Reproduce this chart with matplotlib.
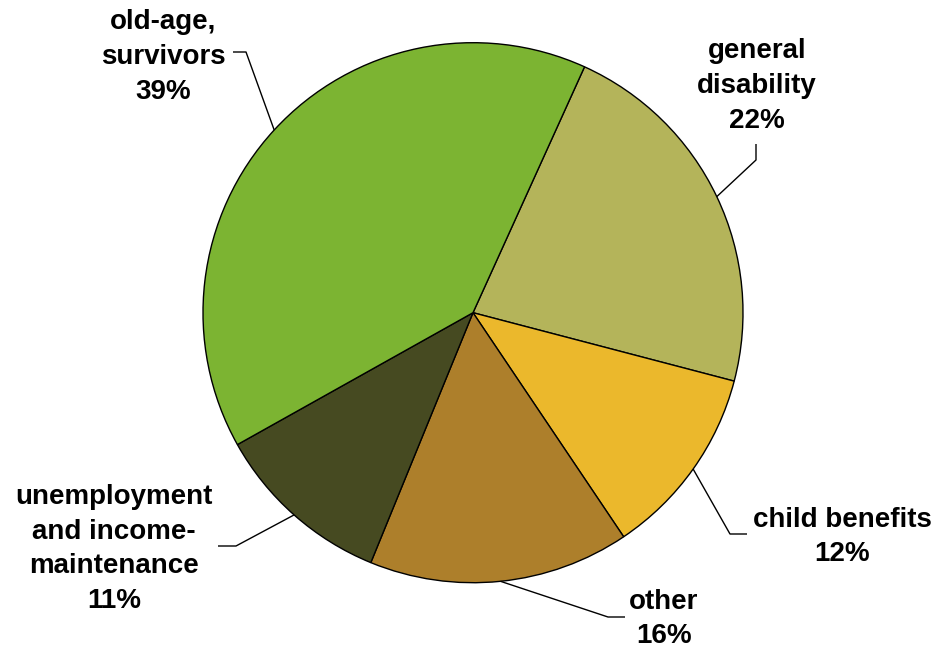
import matplotlib
matplotlib.use("Agg")
import matplotlib.pyplot as plt
import numpy as np

# benefit categories, clockwise from the top
categories = ["general\ndisability", "child benefits", "other",
              "unemployment\nand income-\nmaintenance", "old-age,\nsurvivors"]
shares = [22.3, 11.5, 15.6, 10.7, 39.9]
pct_labels = ["22%", "12%", "16%", "11%", "39%"]
colors = ["#B4B45A", "#EBB82C", "#AD7F2B", "#464A21", "#7CB432"]

W, H = 938, 651
fig = plt.figure(figsize=(W / 100, H / 100), dpi=100)
ax = fig.add_axes([0, 0, 1, 1])

cx, cy, r = 473, H - 312.7, 270
wedges, _ = ax.pie(shares, colors=colors, startangle=65.6, counterclock=False,
                   center=(cx, cy), radius=r,
                   wedgeprops=dict(edgecolor="black", linewidth=1.0))
ax.set_xlim(0, W)
ax.set_ylim(0, H)
ax.axis("off")

# label layout in pixel coords (y measured from the top)
label_pos = [(757, 86), (842, 537), (664, 619), (114, 549), (163, 57)]
elbows = [(756, 160), (730, 534), (608, 617), (236, 546), (246, 52)]
line_ends = [(756, 144), (747, 534), (625, 617), (218, 546), (233, 52)]

for w, cat, pct, pos, elb, end in zip(wedges, categories, pct_labels,
                                      label_pos, elbows, line_ends):
    ang = np.deg2rad((w.theta1 + w.theta2) / 2)
    ax0 = cx + r * np.cos(ang)
    ay0 = cy + r * np.sin(ang)
    ax.plot([ax0, elb[0], end[0]], [ay0, H - elb[1], H - end[1]],
            color="black", lw=1.0, solid_capstyle="butt")
    ax.text(pos[0], H - pos[1], f"{cat}\n{pct}", ha="center", va="center",
            multialignment="center", fontsize=20, fontweight="bold",
            family="Liberation Sans", linespacing=1.43)

fig.savefig("out.png", dpi=100)
